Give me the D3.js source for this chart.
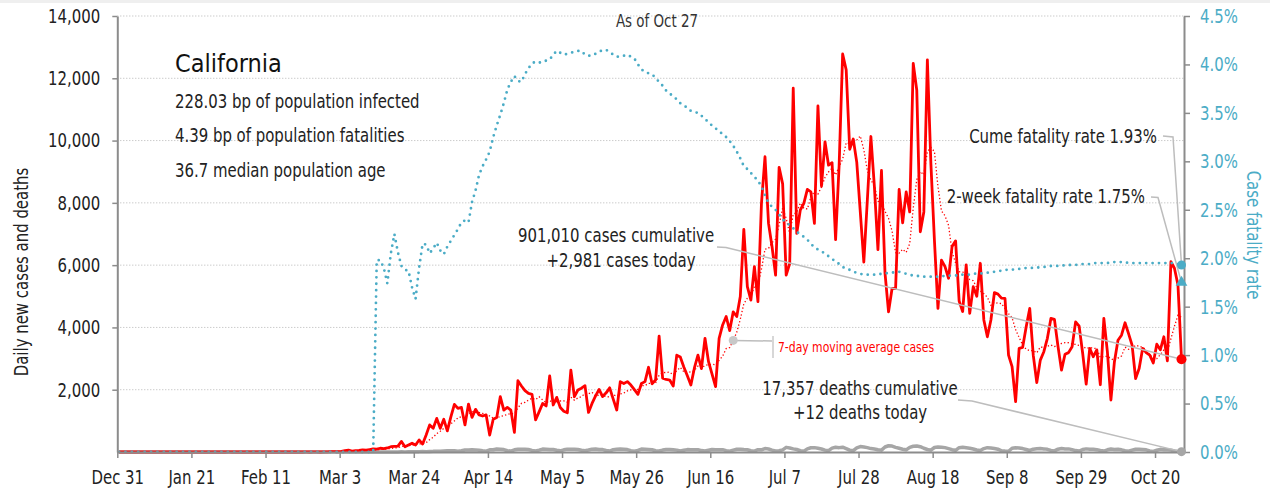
<!DOCTYPE html>
<html lang="en">

<head>
    <meta charset="utf-8">
    <title>California daily cases, deaths and case fatality rate</title>
    <script type="text/javascript" src="https://d3js.org/d3.v7.min.js"></script>
    <style type="text/css">
        body { margin: 0; background: #fff; }
        text { font-family: "Liberation Sans Narrow", "DejaVu Sans Condensed", "Roboto", sans-serif; }
    </style>
</head>

<body>
    <script type="text/javascript">
        //Daily series start on Dec 31 2019, one value per day up to Oct 27 2020
        const startDay = '2019-12-31'

        //Daily new cases
        const dailyCases = [
            0,
            //Jan
            0, 0, 0, 0, 0, 0, 0, 0, 0, 0, 0, 0, 0, 0, 0, 0, 0, 0, 0, 0, 0, 0, 0, 0, 0, 2, 0, 0, 0, 0, 1,
            //Feb
            0, 3, 0, 0, 0, 0, 0, 0, 0, 0, 0, 0, 0, 0, 0, 0, 0, 0, 0, 0, 0, 1, 0, 1, 2, 0, 5, 6, 10,
            //Mar
            12, 8, 20, 45, 60, 30, 40, 50, 70, 60, 80, 100, 90, 120, 110, 130, 170, 180, 190, 340,
            170, 225, 280, 225, 385, 255, 545, 870, 760, 1080, 760,
            //Apr
            1050, 680, 1130, 1530, 1400, 1430, 870, 1540, 1110, 1370, 1190, 1155, 1190, 545, 1050,
            1110, 1775, 1345, 1430, 1345, 630, 2290, 2120, 1970, 1880, 1850, 1030, 1290, 1560, 1480,
            //May
            2440, 1510, 1755, 1430, 1310, 1260, 2630, 1775, 1990, 2050, 2130, 1270, 1560, 1800, 2010,
            1780, 1900, 2060, 1700, 1350, 2260, 2200, 2260, 2150, 2000, 1850, 2200, 2260, 2720, 2190, 2310,
            //Jun
            3720, 2370, 2330, 2310, 2120, 3110, 3050, 2730, 2450, 2150, 2700, 3110, 2680, 3650, 2900,
            2500, 2100, 3650, 4080, 4350, 3900, 4500, 4350, 4990, 7150, 5310, 4880, 5950, 4830, 7985,
            //Jul
            9480, 7340, 6590, 5680, 9140, 8610, 5680, 6050, 11680, 7020, 7770, 7985, 8430, 8350, 7340,
            11110, 8540, 9960, 9210, 9290, 6820, 9200, 12780, 12270, 9720, 10050, 9300, 7700, 6100, 8100, 10130,
            //Aug
            8510, 6500, 9040, 5740, 4500, 5250, 5250, 8430, 7360, 8350, 7710, 12480, 11620, 7070, 7710,
            12590, 9260, 6800, 4610, 6160, 5950, 5580, 6600, 6780, 4850, 4510, 6010, 4450, 5310, 5000, 6060,
            //Sep
            4240, 3700, 4240, 5120, 5070, 4940, 4930, 3110, 2740, 1620, 3330, 3360, 4020, 4610, 3110,
            2230, 2950, 3220, 3650, 4290, 4260, 3400, 2630, 3140, 3190, 3380, 4180, 4040, 3170, 2180,
            //Oct
            3330, 3060, 3280, 2160, 4290, 3220, 1670, 2900, 3590, 3750, 4150, 3800, 3430, 2360, 2680,
            3330, 3190, 3110, 2860, 3460, 3280, 3700, 2930, 6110, 5900, 5360, 2981
        ]

        //Daily new deaths (estimated, the line hugs the bottom of the chart)
        const dailyDeaths = [
            0,
            0, 0, 0, 0, 0, 0, 0, 0, 0, 0, 0, 0, 0, 0, 0, 0, 0, 0, 0, 0, 0, 0, 0, 0, 0, 0, 0, 0, 0, 0, 0,
            0, 0, 0, 0, 0, 0, 0, 0, 0, 0, 0, 0, 0, 0, 0, 0, 0, 0, 0, 0, 0, 0, 0, 0, 0, 0, 0, 0, 0,
            0, 0, 0, 1, 0, 0, 1, 0, 1, 0, 1, 0, 1, 2, 1, 2, 3, 4, 2, 5, 4, 6, 5, 10, 12, 17, 12, 20, 21, 26, 22,
            30, 38, 44, 42, 23, 40, 65, 63, 69, 68, 53, 38, 28, 70, 71, 96, 91, 79, 40, 31, 70, 88, 89, 86, 78,
            52, 35, 60, 93, 92,
            81, 79, 55, 38, 70, 92, 87, 89, 80, 55, 40, 62, 91, 94, 79, 77, 50, 30, 75, 90, 93, 87, 78, 42, 22,
            50, 95, 92, 83, 72, 40,
            35, 61, 78, 83, 72, 60, 32, 58, 77, 70, 69, 74, 45, 30, 56, 81, 76, 69, 75, 44, 27, 60, 88, 92, 80,
            71, 40, 28, 73, 71,
            110, 95, 60, 35, 40, 70, 149, 130, 100, 80, 40, 25, 100, 135, 140, 120, 95, 60, 45, 125, 150, 140,
            155, 110, 60, 45, 135, 175, 160, 140, 110,
            95, 70, 60, 160, 200, 190, 150, 120, 90, 70, 150, 185, 195, 170, 120, 80, 60, 145, 160, 155, 140,
            110, 75, 55, 140, 150, 135, 120, 95, 65, 50,
            110, 140, 130, 115, 90, 40, 30, 25, 120, 135, 130, 110, 80, 50, 90, 105, 110, 100, 85, 50, 35, 90,
            110, 95, 100, 75, 45, 30, 80, 100,
            85, 90, 75, 50, 30, 70, 95, 80, 85, 70, 40, 25, 60, 90, 85, 80, 70, 35, 20, 55, 85, 75, 70, 60, 30,
            20, 12
        ]

        //Cumulative case fatality rate in percent
        const fatalityRate = [
            0,
            0, 0, 0, 0, 0, 0, 0, 0, 0, 0, 0, 0, 0, 0, 0, 0, 0, 0, 0, 0, 0, 0, 0, 0, 0, 0, 0, 0, 0, 0, 0,
            0, 0, 0, 0, 0, 0, 0, 0, 0, 0, 0, 0, 0, 0, 0, 0, 0, 0, 0, 0, 0, 0, 0, 0, 0, 0, 0, 0, 0,
            0, 0, 0, 0, 0, 0, 0, 0, 0, 0, 0, 0, 1.98, 1.98, 1.90, 1.74, 2.05, 2.25, 2.06, 1.92, 1.88, 1.87,
            1.70, 1.58, 1.90, 2.15, 2.14, 2.05, 2.10, 2.16, 2.08,
            2.04, 2.12, 2.18, 2.24, 2.30, 2.37, 2.39, 2.37, 2.58, 2.70, 2.86, 2.95, 3.02, 3.10, 3.25, 3.37,
            3.48, 3.60, 3.74, 3.82, 3.88, 3.83, 3.82, 3.90, 3.96, 4.01, 4.03, 4.02, 4.02, 4.04,
            4.05, 4.10, 4.14, 4.12, 4.10, 4.11, 4.12, 4.13, 4.14, 4.14, 4.10, 4.09, 4.09, 4.11, 4.13, 4.15,
            4.15, 4.13, 4.10, 4.08, 4.08, 4.09, 4.10, 4.08, 4.06, 4.00, 3.95, 3.92, 3.91, 3.90, 3.86,
            3.82, 3.78, 3.73, 3.70, 3.67, 3.64, 3.60, 3.58, 3.55, 3.52, 3.51, 3.50, 3.47, 3.44, 3.40, 3.37,
            3.34, 3.31, 3.28, 3.25, 3.21, 3.16, 3.10, 3.03, 2.95, 2.92, 2.88, 2.84, 2.80, 2.74,
            2.65, 2.57, 2.53, 2.50, 2.45, 2.40, 2.37, 2.34, 2.31, 2.27, 2.25, 2.22, 2.19, 2.15, 2.11, 2.09,
            2.07, 2.05, 2.02, 1.99, 1.97, 1.94, 1.91, 1.89, 1.88, 1.86, 1.85, 1.84, 1.83, 1.83, 1.83,
            1.83, 1.83, 1.84, 1.84, 1.85, 1.85, 1.86, 1.86, 1.85, 1.84, 1.83, 1.82, 1.82, 1.81, 1.81, 1.81,
            1.81, 1.81, 1.81, 1.81, 1.82, 1.82, 1.82, 1.82, 1.83, 1.83, 1.83, 1.83, 1.84, 1.84, 1.84,
            1.85, 1.85, 1.86, 1.86, 1.87, 1.87, 1.88, 1.88, 1.88, 1.89, 1.89, 1.89, 1.90, 1.90, 1.90, 1.90,
            1.91, 1.91, 1.91, 1.92, 1.92, 1.92, 1.92, 1.93, 1.93, 1.93, 1.93, 1.94, 1.94, 1.94,
            1.94, 1.95, 1.95, 1.95, 1.95, 1.95, 1.96, 1.96, 1.96, 1.96, 1.96, 1.95, 1.95, 1.95, 1.95, 1.95,
            1.95, 1.95, 1.95, 1.95, 1.95, 1.95, 1.95, 1.95, 1.95, 1.94, 1.93
        ]

        //Summary figures and labels
        const stateName = 'California'
        const stateStats = ['228.03 bp of population infected', '4.39 bp of population fatalities', '36.7 median population age']
        const asOfLabel = 'As of Oct 27'
        const cumulativeCases = 901010
        const casesToday = 2981
        const cumulativeDeaths = 17357
        const deathsToday = 12
        const cumeFatality = 1.93
        const twoWeekFatality = 1.75

        //Axis ticks
        const dateTicks = ['2019-12-31', '2020-01-21', '2020-02-11', '2020-03-03', '2020-03-24', '2020-04-14',
            '2020-05-05', '2020-05-26', '2020-06-16', '2020-07-07', '2020-07-28', '2020-08-18', '2020-09-08',
            '2020-09-29', '2020-10-20']
        const countTicks = [2000, 4000, 6000, 8000, 10000, 12000, 14000]
        const rateTicks = [0, 0.005, 0.01, 0.015, 0.02, 0.025, 0.03, 0.035, 0.04, 0.045]

        //STEP 1 - Build the daily table
        const parseDay = d3.utcParse('%Y-%m-%d')
        const formatTick = d3.utcFormat('%b %-d')
        const day0 = parseDay(startDay)

        const rows = dailyCases.map((c, i) => {
            //7-day trailing average of the cases read above
            const win = dailyCases.slice(Math.max(0, i - 6), i + 1)
            return {
                date: d3.utcHour.offset(d3.utcDay.offset(day0, i), 12), //points sit mid-day
                cases: c,
                deaths: dailyDeaths[i],
                rate: fatalityRate[i] / 100,
                avg: d3.mean(win)
            }
        })
        const lastRow = rows[rows.length - 1]

        //STEP 2 - Canvas, scales, axes
        const canvasWidth = 1270
        const canvasHeight = 491
        const plotLeft = 117.3, plotRight = 1184, plotTop = 16, plotBottom = 452

        const xScale = d3.scaleUtc()
            .domain([day0, d3.utcHour.offset(parseDay('2020-10-28'), 5)])
            .range([plotLeft, plotRight])
        const yLeft = d3.scaleLinear().domain([0, 14000]).range([plotBottom, plotTop])
        const yRight = d3.scaleLinear().domain([0, 0.045]).range([plotBottom, plotTop])

        const teal = '#4bacc6'
        const red = '#ff0000'
        const gray = '#a6a6a6'
        const axisGray = '#8c8c8c'
        const inkColor = '#222'

        //The original lettering is a condensed face; squeeze the installed one sideways
        const squeezeX = 0.83
        const squeeze = (sel, origin) => sel
            .style('transform-box', 'fill-box')
            .style('transform-origin', origin + ' 50%')
            .style('transform', 'scaleX(' + squeezeX + ')')

        const svg = d3.select('body')
            .append('svg')
            .attr('width', canvasWidth)
            .attr('height', canvasHeight)

        //thin band at the top edge
        svg.append('rect')
            .attr('x', 0).attr('y', 0)
            .attr('width', canvasWidth).attr('height', 3)
            .attr('fill', '#efefef')

        //Dotted gridlines
        svg.append('g')
            .selectAll('line')
            .data(countTicks)
            .enter()
            .append('line')
            .attr('x1', plotLeft).attr('x2', plotRight)
            .attr('y1', d => yLeft(d)).attr('y2', d => yLeft(d))
            .attr('stroke', '#b5b5b5')
            .attr('stroke-width', 1)
            .attr('stroke-dasharray', '1 2')

        //STEP 3 - Series
        const deathLine = d3.line().x(d => xScale(d.date)).y(d => yLeft(d.deaths))
        svg.append('path')
            .datum(rows)
            .attr('d', deathLine)
            .attr('fill', 'none')
            .attr('stroke', gray)
            .attr('stroke-width', 3.5)
            .attr('stroke-linejoin', 'round')

        const caseLine = d3.line().x(d => xScale(d.date)).y(d => yLeft(d.cases))
        svg.append('path')
            .datum(rows)
            .attr('d', caseLine)
            .attr('fill', 'none')
            .attr('stroke', red)
            .attr('stroke-width', 2.8)
            .attr('stroke-linejoin', 'round')

        const avgLine = d3.line().x(d => xScale(d.date)).y(d => yLeft(d.avg))
        svg.append('path')
            .datum(rows)
            .attr('d', avgLine)
            .attr('fill', 'none')
            .attr('stroke', red)
            .attr('stroke-width', 1.3)
            .attr('stroke-dasharray', '1.3 2.2')

        const rateLine = d3.line().x(d => xScale(d.date)).y(d => yRight(d.rate))
        svg.append('path')
            .datum(rows)
            .attr('d', rateLine)
            .attr('fill', 'none')
            .attr('stroke', teal)
            .attr('stroke-width', 2.8)
            .attr('stroke-linecap', 'round')
            .attr('stroke-dasharray', '0 6.4')

        //STEP 4 - Axes
        const styleAxis = (g, color, origin) => {
            g.attr('font-size', 20).attr('font-family', null)
            g.select('.domain').attr('stroke', axisGray).attr('stroke-width', 2)
            g.selectAll('.tick line').attr('stroke', axisGray).attr('stroke-width', 1.5)
            g.selectAll('.tick text').attr('fill', color).call(squeeze, origin)
        }

        svg.append('g')
            .attr('transform', 'translate(0,' + plotBottom + ')')
            .call(d3.axisBottom(xScale)
                .tickValues(dateTicks.map(parseDay))
                .tickFormat(formatTick)
                .tickSize(6).tickSizeOuter(0).tickPadding(12))
            .call(g => styleAxis(g, inkColor, '50%'))

        svg.append('g')
            .attr('transform', 'translate(' + plotLeft + ',0)')
            .call(d3.axisLeft(yLeft)
                .tickValues(countTicks)
                .tickFormat(d3.format(','))
                .tickSize(5).tickSizeOuter(0).tickPadding(12))
            .call(g => styleAxis(g, inkColor, '100%'))

        svg.append('g')
            .attr('transform', 'translate(' + plotRight + ',0)')
            .call(d3.axisRight(yRight)
                .tickValues(rateTicks)
                .tickFormat(d3.format('.1%'))
                .tickSize(6).tickSizeOuter(0).tickPadding(10))
            .call(g => styleAxis(g, teal, '0%'))

        //Axis titles
        svg.append('g')
            .attr('transform', 'translate(28,272) rotate(-90)')
            .append('text')
            .attr('text-anchor', 'middle')
            .attr('font-size', 20)
            .attr('fill', inkColor)
            .text('Daily new cases and deaths')
            .call(squeeze, '50%')

        svg.append('g')
            .attr('transform', 'translate(1247,235) rotate(90)')
            .append('text')
            .attr('text-anchor', 'middle')
            .attr('font-size', 20)
            .attr('fill', teal)
            .text('Case fatality rate')
            .call(squeeze, '50%')

        //STEP 5 - Text block and annotations
        const addText = (x, y, size, anchor, color, label) => svg.append('text')
            .attr('x', x).attr('y', y)
            .attr('text-anchor', anchor)
            .attr('font-size', size)
            .attr('fill', color)
            .text(label)
            .call(squeeze, anchor === 'middle' ? '50%' : anchor === 'end' ? '100%' : '0%')

        addText(657, 27, 18, 'middle', '#333', asOfLabel)

        svg.append('text')
            .attr('x', 175).attr('y', 72)
            .attr('font-size', 25)
            .attr('fill', '#111')
            .text(stateName)

        stateStats.forEach((s, i) => addText(175, 108 + i * 34.5, 20, 'start', inkColor, s))

        const leader = d3.line()
        const fmt = d3.format(',')
        const xEnd = xScale(lastRow.date)

        const addLeader = pts => svg.append('path')
            .attr('d', leader(pts))
            .attr('fill', 'none')
            .attr('stroke', '#bdbdbd')
            .attr('stroke-width', 1.5)

        //cases callout
        addText(616, 242, 20, 'middle', inkColor, fmt(cumulativeCases) + ' cases cumulative')
        addText(621, 267, 20, 'middle', inkColor, '+' + fmt(casesToday) + ' cases today')
        addLeader([[717, 247], [726, 247.5], [xEnd, yLeft(casesToday)]])

        //deaths callout
        addText(860, 395, 20, 'middle', inkColor, fmt(cumulativeDeaths) + ' deaths cumulative')
        addText(860, 419, 20, 'middle', inkColor, '+' + deathsToday + ' deaths today')
        addLeader([[958, 400], [972, 401], [xEnd, yLeft(deathsToday)]])

        //fatality rate callouts
        addText(1157, 143, 20, 'end', inkColor, 'Cume fatality rate ' + cumeFatality.toFixed(2) + '%')
        addLeader([[1163, 136], [1173, 137], [xEnd, yRight(cumeFatality / 100)]])

        addText(1145, 203, 20, 'end', inkColor, '2-week fatality rate ' + twoWeekFatality.toFixed(2) + '%')
        addLeader([[1151, 197], [1158, 197.5], [xEnd, yRight(twoWeekFatality / 100)]])

        //moving average callout
        const avgPoint = rows[174]
        addLeader([[xScale(avgPoint.date), yLeft(avgPoint.avg)], [772, 341]])
        svg.append('line')
            .attr('x1', 773).attr('x2', 773)
            .attr('y1', 336).attr('y2', 358)
            .attr('stroke', '#bdbdbd').attr('stroke-width', 1.2)
        svg.append('circle')
            .attr('cx', xScale(avgPoint.date)).attr('cy', yLeft(avgPoint.avg))
            .attr('r', 4.5).attr('fill', '#c8c8c8')
        addText(778, 352, 14.5, 'start', red, '7-day moving average cases')

        //end markers
        svg.append('circle')
            .attr('cx', xEnd).attr('cy', yLeft(lastRow.cases))
            .attr('r', 5).attr('fill', red)
        svg.append('circle')
            .attr('cx', xEnd).attr('cy', yLeft(lastRow.deaths))
            .attr('r', 4.5).attr('fill', gray)
        svg.append('circle')
            .attr('cx', xEnd).attr('cy', yRight(cumeFatality / 100))
            .attr('r', 4.5).attr('fill', teal)
        svg.append('path')
            .attr('d', d3.symbol(d3.symbolTriangle, 60)())
            .attr('transform', 'translate(' + xEnd + ',' + yRight(twoWeekFatality / 100) + ')')
            .attr('fill', teal)

    </script>
</body>

</html>
